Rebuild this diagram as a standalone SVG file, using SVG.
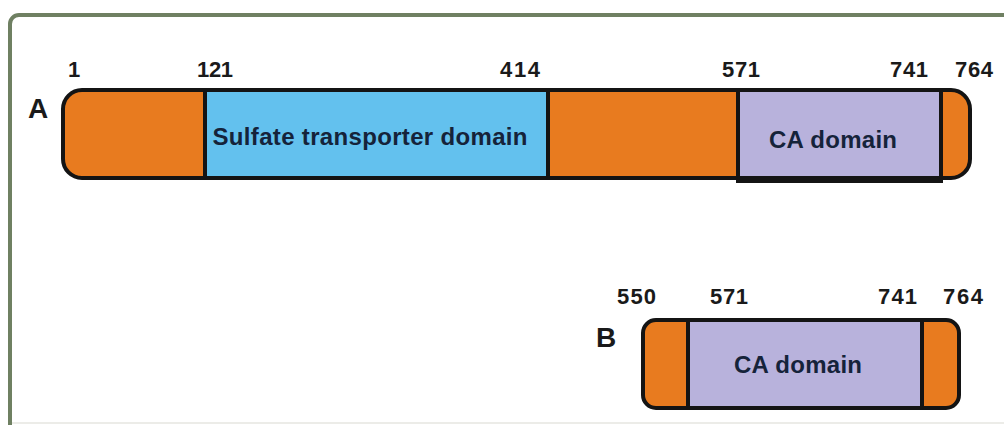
<svg xmlns="http://www.w3.org/2000/svg" width="1004" height="425" viewBox="0 0 1004 425">
<style>
.num{font-family:"Liberation Sans",Arial,sans-serif;font-weight:bold;font-size:22px;fill:#1a1a1a}
.lbl{font-family:"Liberation Sans",Arial,sans-serif;font-weight:bold;font-size:28px;fill:#1a1a1a}
.dom{font-family:"Liberation Sans",Arial,sans-serif;font-weight:bold;font-size:24px;fill:#15233a;text-anchor:middle}
.or{fill:#e87b1f}
.bl{fill:#63c1ee}
.lv{fill:#b8b2dc}
.ln{stroke:#141414;stroke-width:4;fill:none}
</style>
<rect x="0" y="0" width="1004" height="425" fill="#ffffff"/>
<rect id="frame" x="10" y="15" width="1010" height="430" rx="9" fill="none" stroke="#6f8062" stroke-width="4"/>
<line x1="12" y1="423" x2="1004" y2="423" stroke="#e6e6e0" stroke-width="1.5"/>
<g id="protein-A">
<rect class="or" x="63" y="90" width="907" height="88" rx="19"/>
<rect class="bl" x="205" y="92" width="343" height="84"/>
<rect class="lv" x="738" y="92" width="203" height="89"/>
<rect class="ln" x="63" y="90" width="907" height="88" rx="19"/>
<line class="ln" x1="205" y1="90" x2="205" y2="178"/>
<line class="ln" x1="548" y1="90" x2="548" y2="178"/>
<polyline class="ln" points="738,90 738,181 941,181 941,90"/>
<text class="lbl" x="28" y="118" textLength="25">A</text>
<text class="num" x="68" y="77">1</text>
<text class="num" x="197" y="77" textLength="36">121</text>
<text class="num" x="500" y="77" textLength="40">414</text>
<text class="num" x="722" y="77" textLength="38">571</text>
<text class="num" x="890" y="77" textLength="38">741</text>
<text class="num" x="955" y="77" textLength="38">764</text>
<text class="dom" x="370" y="145" textLength="315">Sulfate transporter domain</text>
<text class="dom" x="833" y="148" textLength="128">CA domain</text>
</g>
<g id="protein-B">
<rect class="or" x="643" y="320" width="316" height="88" rx="13"/>
<rect class="lv" x="688" y="322" width="234" height="84"/>
<rect class="ln" x="643" y="320" width="316" height="88" rx="13"/>
<line class="ln" x1="688" y1="320" x2="688" y2="408"/>
<line class="ln" x1="922" y1="320" x2="922" y2="408"/>
<text class="lbl" x="596" y="347" textLength="21">B</text>
<text class="num" x="617" y="304" textLength="39">550</text>
<text class="num" x="710" y="304" textLength="38">571</text>
<text class="num" x="878" y="304" textLength="39">741</text>
<text class="num" x="943" y="304" textLength="40">764</text>
<text class="dom" x="798" y="373" textLength="128">CA domain</text>
</g>
<g id="connectors"></g>
</svg>
